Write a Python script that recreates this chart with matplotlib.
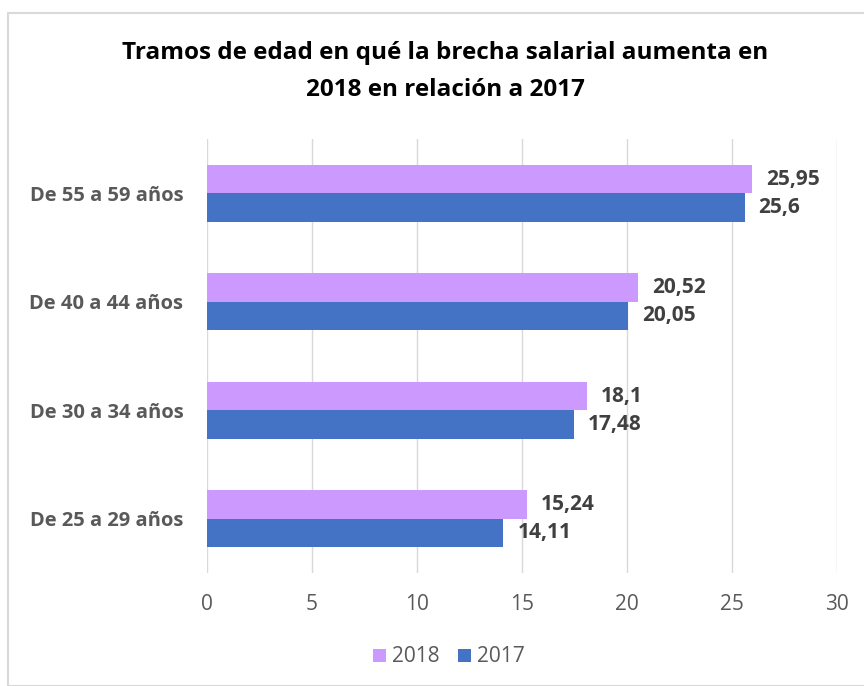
import numpy as np
import matplotlib.pyplot as plt
from matplotlib.patches import Rectangle

# Datos (de abajo hacia arriba)
tramos = ['De 25 a 29 años', 'De 30 a 34 años', 'De 40 a 44 años', 'De 55 a 59 años']
brecha_2018 = [15.24, 18.1, 20.52, 25.95]
brecha_2017 = [14.11, 17.48, 20.05, 25.6]
etiquetas_2018 = ['15,24', '18,1', '20,52', '25,95']
etiquetas_2017 = ['14,11', '17,48', '20,05', '25,6']
titulo = ['Tramos de edad en qué la brecha salarial aumenta en', '2018 en relación a 2017']

color_2018 = '#CC99FF'
color_2017 = '#4472C4'
gris = '#595959'

plt.rcParams['font.family'] = ['Open Sans', 'DejaVu Sans']

fig = plt.figure(figsize=(8.64, 6.86), dpi=100)
ax = fig.add_axes([207 / 864, 1 - 573 / 686, 630 / 864, 434 / 686])

# borde del área del gráfico
fig.patches.append(Rectangle((8 / 864, 0), 1, 1 - 13 / 686, transform=fig.transFigure,
                             fill=False, edgecolor='#D9D9D9', linewidth=1.5))

y = np.arange(len(tramos))
h = 0.262
b18 = ax.barh(y + h / 2, brecha_2018, height=h, color=color_2018, label='2018', zorder=3)
b17 = ax.barh(y - h / 2, brecha_2017, height=h, color=color_2017, label='2017', zorder=3)

for barras, etiquetas in ((b18, etiquetas_2018), (b17, etiquetas_2017)):
    for barra, txt in zip(barras, etiquetas):
        ax.annotate(txt, (barra.get_width(), barra.get_y() + barra.get_height() / 2),
                    xytext=(14, 0), textcoords='offset pixels',
                    ha='left', va='center', fontsize=15, fontweight='bold', color='#404040')

ax.set_xlim(0, 30)
ax.set_ylim(-0.5, 3.5)
ax.set_xticks(range(0, 31, 5))
ax.set_yticks(y)
ax.set_yticklabels(tramos, fontsize=14.5, fontweight='bold', color=gris)
ax.tick_params(axis='x', length=0, pad=15, labelsize=15, labelcolor=gris)
ax.tick_params(axis='y', length=0, pad=17)
ax.grid(axis='x', color='#D9D9D9', linewidth=1, zorder=0)
for s in ax.spines.values():
    s.set_visible(False)

# título en dos líneas
for linea, ypix in zip(titulo, (53, 90)):
    fig.text(445 / 864, 1 - ypix / 686, linea, ha='center', va='center',
             fontsize=17.5, fontweight='bold', color='black')

fig.legend(handles=[b18, b17], loc='center', bbox_to_anchor=(449 / 864, 1 - 657 / 686),
           ncol=2, frameon=False, fontsize=15, handlelength=0.6, handleheight=0.6,
           handletextpad=0.3, columnspacing=0.9, labelcolor=gris)

fig.savefig('out.png', dpi=100)
